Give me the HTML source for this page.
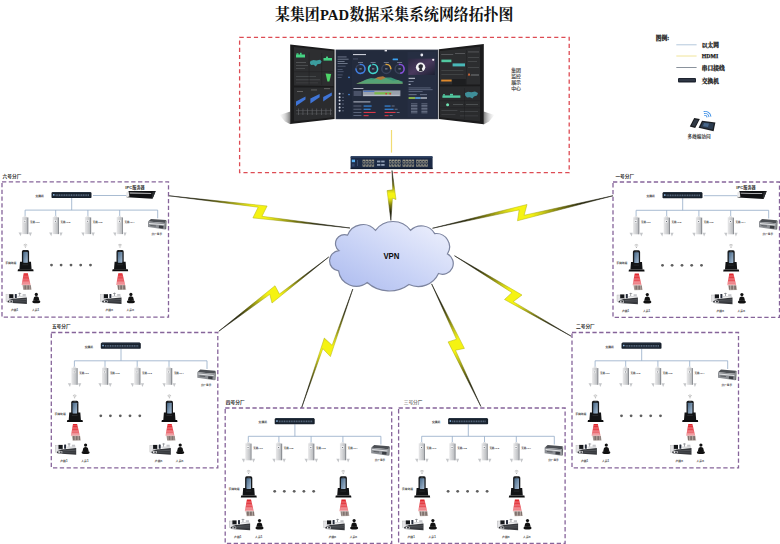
<!DOCTYPE html>
<html lang="zh"><head><meta charset="utf-8"><title>某集团PAD数据采集系统网络拓扑图</title>
<style>html,body{margin:0;padding:0;background:#fff;overflow:hidden}svg{display:block}text{font-family:"Liberation Sans","Noto Sans CJK SC",sans-serif}.sb{font-family:"Liberation Sans","Noto Sans CJK SC",sans-serif;font-weight:bold}.sr{font-family:"Liberation Sans","Noto Sans CJK SC",sans-serif;font-weight:normal}.fb{font-family:"Liberation Serif","Noto Serif CJK SC",serif;font-weight:bold}</style>
</head><body>
<svg width="780" height="544" viewBox="0 0 780 544">
<defs><linearGradient id="cl" x1="0" y1="1" x2="1" y2="0"><stop offset="0" stop-color="#aab9ee"/><stop offset=".45" stop-color="#c9d3f6"/><stop offset="1" stop-color="#f1f3fd"/></linearGradient><linearGradient id="apg" x1="0" y1="0" x2="1" y2="0"><stop offset="0" stop-color="#e9e9ea"/><stop offset=".5" stop-color="#d4d5d7"/><stop offset="1" stop-color="#bcbec1"/></linearGradient><linearGradient id="scr" x1="0" y1="0" x2="1" y2="1"><stop offset="0" stop-color="#466786"/><stop offset="1" stop-color="#a9bed4"/></linearGradient><linearGradient id="beam" x1="0" y1="0" x2="0" y2="1"><stop offset="0" stop-color="#e01f26"/><stop offset=".6" stop-color="#e8525a"/><stop offset="1" stop-color="#f0a0a4"/></linearGradient><linearGradient id="space" x1="0" y1="0" x2="1" y2="1"><stop offset="0" stop-color="#2a2840"/><stop offset=".5" stop-color="#4a3a5e"/><stop offset="1" stop-color="#1c2032"/></linearGradient><linearGradient id="shL" x1="1" y1="0.5" x2="0" y2="0.5"><stop offset="0" stop-color="#444" stop-opacity=".7"/><stop offset=".5" stop-color="#777" stop-opacity=".3"/><stop offset="1" stop-color="#999" stop-opacity="0"/></linearGradient><linearGradient id="shR" x1="0" y1="0.5" x2="1" y2="0.5"><stop offset="0" stop-color="#444" stop-opacity=".7"/><stop offset=".5" stop-color="#777" stop-opacity=".3"/><stop offset="1" stop-color="#999" stop-opacity="0"/></linearGradient><linearGradient id="bg0" gradientUnits="userSpaceOnUse" x1="392.0" y1="170.5" x2="390.9" y2="220.4"><stop offset="0" stop-color="#1c1c14"/><stop offset=".18" stop-color="#28280c"/><stop offset=".3" stop-color="#7a7a0e"/><stop offset=".4" stop-color="#cfcf16"/><stop offset=".46" stop-color="#f5f312"/><stop offset=".54" stop-color="#f5f312"/><stop offset=".6" stop-color="#cfcf16"/><stop offset=".7" stop-color="#7a7a0e"/><stop offset=".82" stop-color="#28280c"/><stop offset="1" stop-color="#1c1c14"/></linearGradient><linearGradient id="bs0" gradientUnits="userSpaceOnUse" x1="392.0" y1="170.5" x2="390.9" y2="220.4"><stop offset="0" stop-color="#1c1c14"/><stop offset=".18" stop-color="#28280c"/><stop offset=".3" stop-color="#66660e"/><stop offset=".45" stop-color="#b6b614"/><stop offset=".55" stop-color="#b6b614"/><stop offset=".7" stop-color="#66660e"/><stop offset=".82" stop-color="#28280c"/><stop offset="1" stop-color="#1c1c14"/></linearGradient><linearGradient id="bg1" gradientUnits="userSpaceOnUse" x1="168.8" y1="195.8" x2="350.0" y2="228.0"><stop offset="0" stop-color="#1c1c14"/><stop offset=".18" stop-color="#28280c"/><stop offset=".3" stop-color="#7a7a0e"/><stop offset=".4" stop-color="#cfcf16"/><stop offset=".46" stop-color="#f5f312"/><stop offset=".54" stop-color="#f5f312"/><stop offset=".6" stop-color="#cfcf16"/><stop offset=".7" stop-color="#7a7a0e"/><stop offset=".82" stop-color="#28280c"/><stop offset="1" stop-color="#1c1c14"/></linearGradient><linearGradient id="bs1" gradientUnits="userSpaceOnUse" x1="168.8" y1="195.8" x2="350.0" y2="228.0"><stop offset="0" stop-color="#1c1c14"/><stop offset=".18" stop-color="#28280c"/><stop offset=".3" stop-color="#66660e"/><stop offset=".45" stop-color="#b6b614"/><stop offset=".55" stop-color="#b6b614"/><stop offset=".7" stop-color="#66660e"/><stop offset=".82" stop-color="#28280c"/><stop offset="1" stop-color="#1c1c14"/></linearGradient><linearGradient id="bg2" gradientUnits="userSpaceOnUse" x1="432.5" y1="228.2" x2="613.0" y2="195.8"><stop offset="0" stop-color="#1c1c14"/><stop offset=".18" stop-color="#28280c"/><stop offset=".3" stop-color="#7a7a0e"/><stop offset=".4" stop-color="#cfcf16"/><stop offset=".46" stop-color="#f5f312"/><stop offset=".54" stop-color="#f5f312"/><stop offset=".6" stop-color="#cfcf16"/><stop offset=".7" stop-color="#7a7a0e"/><stop offset=".82" stop-color="#28280c"/><stop offset="1" stop-color="#1c1c14"/></linearGradient><linearGradient id="bs2" gradientUnits="userSpaceOnUse" x1="432.5" y1="228.2" x2="613.0" y2="195.8"><stop offset="0" stop-color="#1c1c14"/><stop offset=".18" stop-color="#28280c"/><stop offset=".3" stop-color="#66660e"/><stop offset=".45" stop-color="#b6b614"/><stop offset=".55" stop-color="#b6b614"/><stop offset=".7" stop-color="#66660e"/><stop offset=".82" stop-color="#28280c"/><stop offset="1" stop-color="#1c1c14"/></linearGradient><linearGradient id="bg3" gradientUnits="userSpaceOnUse" x1="218.8" y1="331.2" x2="328.8" y2="257.0"><stop offset="0" stop-color="#1c1c14"/><stop offset=".18" stop-color="#28280c"/><stop offset=".3" stop-color="#7a7a0e"/><stop offset=".4" stop-color="#cfcf16"/><stop offset=".46" stop-color="#f5f312"/><stop offset=".54" stop-color="#f5f312"/><stop offset=".6" stop-color="#cfcf16"/><stop offset=".7" stop-color="#7a7a0e"/><stop offset=".82" stop-color="#28280c"/><stop offset="1" stop-color="#1c1c14"/></linearGradient><linearGradient id="bs3" gradientUnits="userSpaceOnUse" x1="218.8" y1="331.2" x2="328.8" y2="257.0"><stop offset="0" stop-color="#1c1c14"/><stop offset=".18" stop-color="#28280c"/><stop offset=".3" stop-color="#66660e"/><stop offset=".45" stop-color="#b6b614"/><stop offset=".55" stop-color="#b6b614"/><stop offset=".7" stop-color="#66660e"/><stop offset=".82" stop-color="#28280c"/><stop offset="1" stop-color="#1c1c14"/></linearGradient><linearGradient id="bg4" gradientUnits="userSpaceOnUse" x1="454.5" y1="255.8" x2="571.2" y2="336.2"><stop offset="0" stop-color="#1c1c14"/><stop offset=".18" stop-color="#28280c"/><stop offset=".3" stop-color="#7a7a0e"/><stop offset=".4" stop-color="#cfcf16"/><stop offset=".46" stop-color="#f5f312"/><stop offset=".54" stop-color="#f5f312"/><stop offset=".6" stop-color="#cfcf16"/><stop offset=".7" stop-color="#7a7a0e"/><stop offset=".82" stop-color="#28280c"/><stop offset="1" stop-color="#1c1c14"/></linearGradient><linearGradient id="bs4" gradientUnits="userSpaceOnUse" x1="454.5" y1="255.8" x2="571.2" y2="336.2"><stop offset="0" stop-color="#1c1c14"/><stop offset=".18" stop-color="#28280c"/><stop offset=".3" stop-color="#66660e"/><stop offset=".45" stop-color="#b6b614"/><stop offset=".55" stop-color="#b6b614"/><stop offset=".7" stop-color="#66660e"/><stop offset=".82" stop-color="#28280c"/><stop offset="1" stop-color="#1c1c14"/></linearGradient><linearGradient id="bg5" gradientUnits="userSpaceOnUse" x1="301.5" y1="408.0" x2="352.8" y2="289.0"><stop offset="0" stop-color="#1c1c14"/><stop offset=".18" stop-color="#28280c"/><stop offset=".3" stop-color="#7a7a0e"/><stop offset=".4" stop-color="#cfcf16"/><stop offset=".46" stop-color="#f5f312"/><stop offset=".54" stop-color="#f5f312"/><stop offset=".6" stop-color="#cfcf16"/><stop offset=".7" stop-color="#7a7a0e"/><stop offset=".82" stop-color="#28280c"/><stop offset="1" stop-color="#1c1c14"/></linearGradient><linearGradient id="bs5" gradientUnits="userSpaceOnUse" x1="301.5" y1="408.0" x2="352.8" y2="289.0"><stop offset="0" stop-color="#1c1c14"/><stop offset=".18" stop-color="#28280c"/><stop offset=".3" stop-color="#66660e"/><stop offset=".45" stop-color="#b6b614"/><stop offset=".55" stop-color="#b6b614"/><stop offset=".7" stop-color="#66660e"/><stop offset=".82" stop-color="#28280c"/><stop offset="1" stop-color="#1c1c14"/></linearGradient><linearGradient id="bg6" gradientUnits="userSpaceOnUse" x1="431.6" y1="283.9" x2="480.9" y2="406.5"><stop offset="0" stop-color="#1c1c14"/><stop offset=".18" stop-color="#28280c"/><stop offset=".3" stop-color="#7a7a0e"/><stop offset=".4" stop-color="#cfcf16"/><stop offset=".46" stop-color="#f5f312"/><stop offset=".54" stop-color="#f5f312"/><stop offset=".6" stop-color="#cfcf16"/><stop offset=".7" stop-color="#7a7a0e"/><stop offset=".82" stop-color="#28280c"/><stop offset="1" stop-color="#1c1c14"/></linearGradient><linearGradient id="bs6" gradientUnits="userSpaceOnUse" x1="431.6" y1="283.9" x2="480.9" y2="406.5"><stop offset="0" stop-color="#1c1c14"/><stop offset=".18" stop-color="#28280c"/><stop offset=".3" stop-color="#66660e"/><stop offset=".45" stop-color="#b6b614"/><stop offset=".55" stop-color="#b6b614"/><stop offset=".7" stop-color="#66660e"/><stop offset=".82" stop-color="#28280c"/><stop offset="1" stop-color="#1c1c14"/></linearGradient><g id="ap"><g><polygon points="-6.6,15.8 -3.4,15.8 -4.4,19.4" fill="#c4c6c9"/><polygon points="6.9,15.8 3.7,15.8 5.2,19.4" fill="#c4c6c9"/><rect x="-1.4" y="-1" width="2.6" height="2" fill="#e3e4e6"/><rect x="-3" y="0.3" width="5" height="17" fill="url(#apg)"/><rect x="2" y="0.6" width="1.3" height="16.7" fill="#8e9196"/><rect x="-1.5" y="3.2" width="2.4" height="2.4" fill="#f7f7f8"/><rect x="-.7" y="4" width=".9" height=".9" fill="#4b5058"/></g></g><g id="ipcbox"><g><polygon points="0.6,3 3.6,0.4 18.6,1.6 18,4.6" fill="#4c4f54"/><polygon points="0.6,3 18,4.6 17.6,11 0.6,8.6" fill="#8d9095"/><polygon points="1.6,4.4 17,5.8 16.9,6.8 1.6,5.4" fill="#e4e5e7"/><rect x="11.6" y="7" width="4.4" height="2.6" fill="#3a3d42" transform="rotate(5 11.6 7)"/><rect x="3" y="6.4" width="5.6" height="1" fill="#5b5e63" transform="rotate(5 3 6.4)"/><polygon points="18,4.6 18.6,1.6 19.2,2.4 18.8,10.6 17.6,11" fill="#63666b"/></g></g><g id="scan"><g fill="none" stroke="#8a8a8a" stroke-width=".5"><path d="M21.6 63.2 Q23.4 61.6 25.2 63.2"/><path d="M22.3 64.2 Q23.4 63.3 24.5 64.2"/></g><circle cx="23.4" cy="65.3" r=".5" fill="#8a8a8a"/><rect x="19.9" y="68.3" width="7.2" height="16" rx="1.6" fill="#16181b"/><rect x="21.2" y="70.3" width="4.6" height="10.6" rx=".4" fill="url(#scr)"/><rect x="22.4" y="69" width="2.2" height=".5" fill="#555"/><path d="M18 80 H20.9 V81.4 H26.1 V80 H29 L29.6 87.6 H17.4Z" fill="#121315"/><path d="M16 87.4 H31.2 L31.6 89.4 H15.6Z" fill="#0c0d0e"/><rect x="20.6" y="82.8" width="5.6" height=".5" fill="#3a3d42"/><polygon points="21.7,91.4 25.8,91.4 28.6,103.2 19.6,103.2" fill="url(#beam)"/><rect x="21.6" y="93.0" width="4.4" height=".5" fill="#fff" opacity=".35"/><rect x="21.4" y="94.5" width="4.9" height=".5" fill="#fff" opacity=".35"/><rect x="21.1" y="96.0" width="5.4" height=".5" fill="#fff" opacity=".35"/><rect x="20.9" y="97.5" width="5.9" height=".5" fill="#fff" opacity=".35"/><rect x="20.6" y="99.0" width="6.4" height=".5" fill="#fff" opacity=".35"/><rect x="20.4" y="100.5" width="6.9" height=".5" fill="#fff" opacity=".35"/><rect x="20.1" y="102.0" width="7.4" height=".5" fill="#fff" opacity=".35"/><polygon points="20.4,103.2 28.8,103.2 29.6,108 21.4,108.2" fill="#b9aea8"/><rect x="21.8" y="103.6" width=".6" height="4" fill="#5a4a48"/><rect x="23.3" y="103.6" width=".6" height="4" fill="#5a4a48"/><rect x="24.8" y="103.6" width=".6" height="4" fill="#5a4a48"/><rect x="26.3" y="103.6" width=".6" height="4" fill="#5a4a48"/><rect x="27.8" y="103.6" width=".6" height="4" fill="#5a4a48"/><rect x="4" y="113" width="4" height="6.6" fill="#e4e4e6" stroke="#9a9a9c" stroke-width=".3"/><rect x="7.2" y="112.4" width="4.2" height="4.2" fill="#15171a"/><rect x="6.6" y="116.4" width="5.2" height=".8" fill="#c9c9cc"/><rect x="12.8" y="112.1" width="2" height="4.2" rx=".5" fill="#262c3a"/><rect x="17.4" y="110.8" width=".7" height="4" fill="#7c7f84"/><rect x="16.4" y="111.2" width="2.8" height=".6" fill="#7c7f84"/><rect x="20.6" y="112.2" width="3.2" height="2.6" fill="#c4c5c9"/><rect x="15.4" y="114" width="9" height="1.4" fill="#d9dadc"/><polygon points="10.4,116.9 24.9,115.6 24.9,122.2 6.2,120.9 6.2,118.4" fill="#35373b"/><polygon points="11.6,118 24.4,117.3 24.4,118.2 11.6,118.9" fill="#55585d"/><polygon points="11.6,119.6 24.4,119.2 24.4,119.9 11.6,120.3" fill="#4b4e53"/><rect x="5" y="118.6" width="6" height="2.2" fill="#ececee"/><rect x="5.6" y="119" width="1.6" height="1.4" fill="#2b2d31"/><rect x="8.4" y="119" width="2" height="1.4" fill="#3a3c41"/><circle cx="34.3" cy="112.6" r="1.6" fill="#111"/><path d="M32 115.4 Q34.3 113.6 36.6 115.4 L37.4 118.8 H31.2Z" fill="#111"/><ellipse cx="34.3" cy="119.9" rx="4" ry="1.6" fill="#111"/></g><g id="ipcsrv"><g><polygon points="126.2,9.1 153.8,9.1 150.5,17 124.6,15.4" fill="#101113"/><polygon points="124.2,10.6 126.6,9.3 127.4,14.8 124.6,15.5" fill="#e9e9ea"/><polygon points="127.6,10.8 149.4,11.2 149,12 127.6,11.6" fill="#e0e0e2"/><polygon points="150.6,10 153.4,9.6 150.8,16.4 149.6,16.2" fill="#2b2d30"/><path d="M91 13.7 H124.4" stroke="#93abc6" stroke-width=".8"/></g><text class="sb" x="123.3" y="7.3" font-size="4.2" fill="#333" textLength="19.5" lengthAdjust="spacingAndGlyphs">IPC服务器</text></g><g id="fac"><rect x="0" y="0" width="166.5" height="135.4" fill="none" stroke="#86649a" stroke-width="1.3" stroke-dasharray="4.3 2.5"/><path d="M69.7 16.2 V28.3 M23.1 35 V28.3 H155.7 V36.5 M53.7 28.3 V35 M85.9 28.3 V35 M117.7 28.3 V35" fill="none" stroke="#93abc6" stroke-width=".8"/><path d="M50.6 10.1 H88.4 L89.5 11 V15.4 Q89.5 16.2 88.7 16.2 H50.3 Q49.5 16.2 49.5 15.4 V11Z" fill="#18212c"/><rect x="50.8" y="10.3" width="37.4" height=".7" fill="#2d3a4a"/><rect x="51" y="12.3" width="1.5" height="1.5" fill="#8fbdea"/><line x1="53.6" y1="13.4" x2="87.6" y2="13.4" stroke="#56677c" stroke-width="1.7" stroke-dasharray="1.1 .6"/><rect x="53.6" y="14.6" width="34" height=".5" fill="#2a3544"/><text class="sb" x="33.4" y="15" font-size="2.8" fill="#333" textLength="8.4" lengthAdjust="spacingAndGlyphs">交换机</text><use href="#ap" x="23.1" y="35"/><text class="sb" x="28" y="41.1" font-size="2.5" fill="#333" textLength="9.7" lengthAdjust="spacingAndGlyphs">无线AP1</text><use href="#ap" x="53.7" y="35"/><text class="sb" x="58.6" y="41.1" font-size="2.5" fill="#333" textLength="9.7" lengthAdjust="spacingAndGlyphs">无线AP2</text><use href="#ap" x="85.9" y="35"/><text class="sb" x="90.8" y="41.1" font-size="2.5" fill="#333" textLength="9.7" lengthAdjust="spacingAndGlyphs">无线AP3</text><use href="#ap" x="117.7" y="35"/><text class="sb" x="122.6" y="41.1" font-size="2.5" fill="#333" textLength="9.7" lengthAdjust="spacingAndGlyphs">无线AP4</text><use href="#ipcbox" x="145.4" y="36.7"/><text class="sb" x="149.6" y="53.2" font-size="2.6" fill="#333" textLength="10.4" lengthAdjust="spacingAndGlyphs">分厂显示</text><use href="#scan" x="0.0"/><use href="#scan" x="94.6"/><text class="sb" x="3.2" y="82.2" font-size="2.8" fill="#333" textLength="11.2" lengthAdjust="spacingAndGlyphs">手持终端</text><text class="sb" x="8.9" y="129.6" font-size="2.8" fill="#333" textLength="7.3" lengthAdjust="spacingAndGlyphs">产线1</text><text class="sb" x="29.9" y="129.6" font-size="2.8" fill="#333" textLength="7.3" lengthAdjust="spacingAndGlyphs">人员1</text><text class="sb" x="103.5" y="129.6" font-size="2.8" fill="#333" textLength="7.4" lengthAdjust="spacingAndGlyphs">产线n</text><text class="sb" x="124.5" y="129.6" font-size="2.8" fill="#333" textLength="7.4" lengthAdjust="spacingAndGlyphs">人员n</text><circle cx="49.5" cy="83.3" r="1.4" fill="#5e5e5e"/><circle cx="59.1" cy="83.3" r="1.4" fill="#5e5e5e"/><circle cx="69.0" cy="83.3" r="1.4" fill="#5e5e5e"/><circle cx="78.7" cy="83.3" r="1.4" fill="#5e5e5e"/><circle cx="88.5" cy="83.3" r="1.4" fill="#5e5e5e"/></g></defs>
<rect width="780" height="544" fill="#fff"/>
<text class="fb" x="275" y="19.9" font-size="15.5" fill="#111" textLength="44.7" lengthAdjust="spacingAndGlyphs">某集团</text>
<text x="320.0" y="19.9" style="font-family:'Liberation Serif',serif;font-weight:bold;font-size:15.6px" fill="#111" textLength="29" lengthAdjust="spacingAndGlyphs">PAD</text>
<text class="fb" x="349.5" y="19.9" font-size="15.5" fill="#111" textLength="163.9" lengthAdjust="spacingAndGlyphs">数据采集系统网络拓扑图</text>
<rect x="239.6" y="37.3" width="329.6" height="135.3" fill="none" stroke="#dd4c54" stroke-width="1.3" stroke-dasharray="4.15 3"/>
<g id="monitors">
<polygon points="290.4,111.5 279.5,115 285,121.6 290.4,124.2" fill="url(#shL)"/>
<polygon points="483.6,111.5 494.5,115 489,121.6 483.6,124.5" fill="url(#shR)"/>
<polygon points="290.2,44.4 334.6,49.5 334.6,118.9 290.2,124" fill="#1b1b1c"/>
<polygon points="294,47 333.6,51 333.6,86 294,85.6" fill="#2d2e30"/>
<polygon points="294,87.4 333.6,87.6 333.6,117.3 294,121.4" fill="#2b2c2e"/>
<rect x="296" y="54.5" width="9" height="3" fill="#45d383"/><rect x="296.5" y="53.3" width="2" height="1.4" fill="#45d383"/><rect x="300" y="52.8" width="1.6" height="2" fill="#45d383"/>
<rect x="323.5" y="58" width="8.5" height="2.6" fill="#45d383"/><rect x="326" y="56.6" width="2" height="1.6" fill="#45d383"/>
<path d="M310.5 61 l3 -1 3 .6 3.5 -.8 2 1.6 -1.6 2.4 -3 .4 -1.6 2.2 -2.2 -1.6 -2.6 .2 -1.2 -2z" fill="#3b9c9e"/>
<polygon points="325.6,73.5 331.2,74 329.4,81.6 327.4,81.4" fill="#4ed468"/>
<rect x="296" y="62" width="10" height=".7" fill="#606265"/><rect x="296" y="65" width="12" height=".7" fill="#55575a"/><rect x="296" y="68" width="9" height=".7" fill="#55575a"/><rect x="296" y="76" width="20" height=".7" fill="#505255"/><rect x="296" y="79.5" width="24" height=".7" fill="#505255"/><rect x="296" y="82.6" width="22" height=".6" fill="#48494c"/>
<rect x="308.8" y="52.5" width=".5" height="32" fill="#1f2022"/><rect x="321.6" y="53" width=".5" height="32" fill="#1f2022"/><rect x="293" y="71.6" width="40" height=".5" fill="#1f2022"/>
<polygon points="296,106 296,101.5 305.5,96.6 305.5,99.5" fill="#3f74d6"/>
<polygon points="310.4,103.5 310.4,98.6 319.6,94 319.6,97.2" fill="#3f74d6"/>
<polygon points="323.2,101.4 323.2,97 331.8,92.4 331.8,95.6" fill="#3f74d6"/>
<rect x="296" y="110" width="36" height=".6" fill="#55575a"/><rect x="296" y="113.6" width="36" height=".6" fill="#4c4e51"/>
<rect x="298.0" y="108.5" width=".7" height="6.5" fill="#606266"/>
<rect x="302.6" y="108.5" width=".7" height="6.5" fill="#606266"/>
<rect x="307.2" y="108.5" width=".7" height="6.5" fill="#606266"/>
<rect x="311.8" y="108.5" width=".7" height="6.5" fill="#606266"/>
<rect x="316.4" y="108.5" width=".7" height="6.5" fill="#606266"/>
<rect x="321.0" y="108.5" width=".7" height="6.5" fill="#606266"/>
<rect x="325.6" y="108.5" width=".7" height="6.5" fill="#606266"/>
<rect x="330.2" y="108.5" width=".7" height="6.5" fill="#606266"/>
<rect x="297" y="91" width="6" height=".7" fill="#777"/><rect x="311" y="89.6" width="6" height=".7" fill="#777"/><rect x="324" y="88.4" width="6" height=".7" fill="#777"/>
<polygon points="438.8,49.2 483.8,43.9 483.8,124.3 438.8,118.9" fill="#1b1b1c"/>
<polygon points="440,51 480,46.8 480,84.6 440,84.4" fill="#2c2d2f"/>
<polygon points="440,86.4 480,86.2 480,121.4 440,117.2" fill="#2a2b2d"/>
<rect x="441.4" y="59.6" width="10" height="2.6" fill="#52c9a0"/><rect x="452.6" y="63.4" width="12.4" height="3" fill="#49b8b8"/>
<rect x="441.2" y="79.6" width="10.4" height="1.9" fill="#e08a2c"/>
<rect x="452.2" y="79" width="13.6" height="6.2" fill="#1d1e20"/>
<polygon points="467.8,75.4 469,72.8 470.4,75.4" fill="#e0703a"/><rect x="471" y="74.6" width="8" height=".8" fill="#8a8c8e"/>
<rect x="442.4" y="95.4" width="18" height="2.4" fill="#52c9a0"/><rect x="443" y="94.2" width="2" height="1.4" fill="#52c9a0"/><rect x="450" y="93.8" width="3" height="1.8" fill="#52c9a0"/>
<path d="M465 93 l3 -1.2 3.4 .4 3.6 -.6 3 1.4 -1 2.6 -3 .8 -1.6 2 -2.4 -1.2 -3 .4 -1.8 -2z" fill="#3f8f99"/>
<circle cx="447.6" cy="104.8" r="1.5" fill="#6fe0b0"/>
<rect x="441.2" y="54" width="12" height=".7" fill="#66686b"/><rect x="455" y="53" width="10" height=".7" fill="#66686b"/><rect x="468" y="51.6" width="11" height=".7" fill="#66686b"/><rect x="468" y="57" width="11" height=".6" fill="#56585b"/><rect x="468" y="61" width="9" height=".6" fill="#56585b"/><rect x="468" y="67" width="11" height=".6" fill="#56585b"/><rect x="441.4" y="70" width="22" height=".6" fill="#4e5053"/><rect x="441.4" y="74" width="22" height=".6" fill="#4e5053"/>
<rect x="453" y="104" width="10" height=".7" fill="#5b5d60"/><rect x="466" y="104" width="12" height=".7" fill="#5b5d60"/><rect x="441.4" y="110" width="16" height=".6" fill="#505255"/><rect x="460" y="111" width="18" height=".6" fill="#505255"/><rect x="441.4" y="114" width="14" height=".6" fill="#48494c"/><rect x="460" y="115.6" width="18" height=".6" fill="#48494c"/>
<rect x="466.2" y="50" width=".5" height="35" fill="#1f2022"/><rect x="464" y="88" width=".5" height="31" fill="#1f2022"/><rect x="440" y="100.6" width="41" height=".5" fill="#1f2022"/><rect x="440" y="107.6" width="41" height=".5" fill="#1f2022"/>
<rect x="335.6" y="49.6" width="102.6" height="69.6" fill="#323949"/>
<rect x="336.4" y="50.4" width="101" height="68" fill="#232b3d"/>
<rect x="336.4" y="50.4" width="15.4" height="68" fill="#20283a"/>
<rect x="384.6" y="49.9" width="2.4" height="1.5" fill="#e8e8ee"/>
<rect x="353" y="54" width="13" height="1.1" fill="#c8ccd6"/><rect x="353" y="58.6" width="5" height=".7" fill="#56607a"/>
<rect x="392.6" y="58.4" width="5.4" height="1.8" rx=".5" fill="#3aa0f0"/>
<circle cx="360.5" cy="68.9" r="4.5" fill="none" stroke="#39425a" stroke-width="1.5"/>
<circle cx="360.5" cy="68.9" r="4.5" fill="none" stroke="#3f7de0" stroke-width="1.5" stroke-dasharray="22 8" transform="rotate(-100 360.5 68.9)"/>
<rect x="358.0" y="62" width="5" height=".7" fill="#8a93a8"/>
<rect x="359.3" y="68.5" width="2.4" height=".8" fill="#aab2c4"/>
<circle cx="373.1" cy="68.9" r="4.5" fill="none" stroke="#39425a" stroke-width="1.5"/>
<circle cx="373.1" cy="68.9" r="4.5" fill="none" stroke="#40d6cc" stroke-width="1.5" stroke-dasharray="26 4" transform="rotate(-100 373.1 68.9)"/>
<rect x="370.6" y="62" width="5" height=".7" fill="#8a93a8"/>
<rect x="371.9" y="68.5" width="2.4" height=".8" fill="#aab2c4"/>
<circle cx="386.3" cy="68.9" r="4.5" fill="none" stroke="#39425a" stroke-width="1.5"/>
<circle cx="386.3" cy="68.9" r="4.5" fill="none" stroke="#e0a83c" stroke-width="1.5" stroke-dasharray="8 22" transform="rotate(-100 386.3 68.9)"/>
<rect x="383.8" y="62" width="5" height=".7" fill="#8a93a8"/>
<rect x="385.1" y="68.5" width="2.4" height=".8" fill="#aab2c4"/>
<circle cx="399.6" cy="68.9" r="4.5" fill="none" stroke="#39425a" stroke-width="1.5"/>
<circle cx="399.6" cy="68.9" r="4.5" fill="none" stroke="#8a4fe0" stroke-width="1.5" stroke-dasharray="14 16" transform="rotate(-100 399.6 68.9)"/>
<rect x="397.1" y="62" width="5" height=".7" fill="#8a93a8"/>
<rect x="398.4" y="68.5" width="2.4" height=".8" fill="#aab2c4"/>
<path d="M356.6 83.6 L362 81.4 368 79.2 373 79.8 378 77 383 76.2 388 79 393 80.8 398 80 402.6 82.8 V83.8 H356.6z" fill="#c8863c" opacity=".85"/>
<path d="M356.6 83.6 L361 82 366 79.6 371 78 376 78.6 381 80 386 77.6 391 77.4 396 79.4 402.6 81.6 V83.8 H356.6z" fill="#3fae84" opacity=".8"/>
<rect x="353.4" y="88" width="10" height=".9" fill="#b8bdca"/>
<rect x="353.6" y="91" width="8" height="5" fill="#4a5268"/>
<rect x="362.8" y="90.4" width="37.6" height="5.8" fill="#9aa1ad"/><rect x="363.4" y="90.8" width="11" height="1" fill="#4470c8"/><rect x="374.4" y="92.2" width="17" height="2.4" fill="#7db84c"/><rect x="385.4" y="93" width="1.6" height="1.6" fill="#d03a3a"/><rect x="389.4" y="93" width="1.6" height="1.6" fill="#d03a3a"/><rect x="363.4" y="94.8" width="36" height=".9" fill="#c4c8d0"/>
<rect x="353.4" y="101.4" width="17" height="1" fill="#b8bdca"/>
<rect x="353.4" y="105.6" width="8" height=".8" fill="#6a748a"/><rect x="363.6" y="105.5" width="8" height="1.1" fill="#3a8fe8"/><rect x="384.6" y="105.5" width="6" height="1.1" fill="#3a8fe8"/><rect x="391.6" y="105.6" width="3" height=".8" fill="#7a8499"/>
<rect x="353.4" y="108.8" width="8" height=".8" fill="#6a748a"/><rect x="363.6" y="108.7" width="7" height="1.1" fill="#3a8fe8"/><rect x="384.6" y="108.7" width="9" height="1.1" fill="#3a8fe8"/><rect x="394.6" y="108.8" width="3" height=".8" fill="#7a8499"/>
<rect x="353.4" y="112.0" width="8" height=".8" fill="#6a748a"/><rect x="363.6" y="111.9" width="12" height="1.1" fill="#d83848"/><rect x="384.6" y="111.9" width="11" height="1.1" fill="#d83848"/><rect x="396.6" y="112.0" width="3" height=".8" fill="#7a8499"/>
<rect x="353.4" y="115.2" width="8" height=".8" fill="#6a748a"/><rect x="363.6" y="115.1" width="5" height="1.1" fill="#d83848"/><rect x="384.6" y="115.1" width="4" height="1.1" fill="#d83848"/><rect x="389.6" y="115.2" width="3" height=".8" fill="#7a8499"/>
<rect x="337.6" y="56.6" width="9" height=".7" fill="#8c95aa"/>
<rect x="337.6" y="58.8" width="11" height=".7" fill="#8c95aa"/>
<rect x="337.6" y="61.0" width="7" height=".7" fill="#8c95aa"/>
<rect x="337.6" y="63.2" width="10" height=".7" fill="#8c95aa"/>
<rect x="337.6" y="65.8" width="8" height=".7" fill="#5e6880"/>
<rect x="337.6" y="69.0" width="5" height=".7" fill="#5e6880"/>
<rect x="337.6" y="71.4" width="6" height=".7" fill="#5e6880"/>
<rect x="337.6" y="74.6" width="5" height=".7" fill="#5e6880"/>
<rect x="337.6" y="77.0" width="4" height=".7" fill="#5e6880"/>
<circle cx="339.6" cy="93.8" r="1" fill="#cfd4e0"/><rect x="342" y="93.5" width="2" height=".7" fill="#6a748a"/>
<circle cx="339.6" cy="97.2" r="1" fill="#cfd4e0"/><rect x="342" y="96.9" width="2" height=".7" fill="#6a748a"/>
<circle cx="339.6" cy="100.6" r="1" fill="#cfd4e0"/><rect x="342" y="100.3" width="2" height=".7" fill="#6a748a"/>
<circle cx="339.6" cy="104.0" r="1" fill="#cfd4e0"/><rect x="342" y="103.7" width="2" height=".7" fill="#6a748a"/>
<circle cx="339.6" cy="107.4" r="1" fill="#cfd4e0"/><rect x="342" y="107.1" width="2" height=".7" fill="#6a748a"/>
<circle cx="339.6" cy="110.8" r="1" fill="#cfd4e0"/><rect x="342" y="110.5" width="2" height=".7" fill="#6a748a"/>
<circle cx="349" cy="77.4" r=".8" fill="#4a90e8"/><circle cx="349" cy="94.6" r=".8" fill="#4a90e8"/>
<rect x="407.4" y="52" width="29" height="65.4" fill="#262e42"/>
<rect x="408.2" y="58.6" width="26.6" height="16.4" fill="url(#space)"/>
<circle cx="420.6" cy="67.2" r="4.7" fill="#f2f2f4"/><path d="M418.6 65.4 q2 -2.2 4.2 -.4 q.6 2.4 -1 3.8 l1 2.4 h-4 l.8 -2.6 q-1.8 -1.2 -1 -3.2z" fill="#2a2a34"/>
<circle cx="433.2" cy="59.8" r="1.1" fill="#f2f2f6"/><circle cx="421.8" cy="55" r="1.4" fill="#e6e8f0"/>
<rect x="408.6" y="77.8" width="6.4" height="1" fill="#c8ccd6"/><rect x="408.6" y="81" width="5" height=".8" fill="#8790a6"/><rect x="408.6" y="83.8" width="2" height="1.2" fill="#aab2c4"/>
<rect x="408.6" y="87.6" width="22" height=".7" fill="#6e7890"/><rect x="408.6" y="89.4" width="24" height=".7" fill="#6e7890"/><rect x="408.6" y="91.2" width="14" height=".7" fill="#6e7890"/>
<rect x="408.6" y="94.4" width="8" height=".7" fill="#8790a6"/><rect x="420" y="94.4" width="7" height=".7" fill="#8790a6"/>
<rect x="408.6" y="97.2" width="6.6" height="1.6" fill="#9fcf4e"/><rect x="415.2" y="97.2" width="5.4" height="1.6" fill="#5aa8e8"/><rect x="420.6" y="97.2" width="6.4" height="1.6" fill="#a8aeba"/>
<rect x="411" y="103.6" width="6.4" height=".6" fill="#8c95aa"/><rect x="421.4" y="103.6" width="6" height=".6" fill="#8c95aa"/>
<rect x="411" y="105.1" width="6.4" height=".6" fill="#8c95aa"/><rect x="421.4" y="105.1" width="6" height=".6" fill="#8c95aa"/>
<rect x="411" y="106.6" width="6.4" height=".6" fill="#8c95aa"/><rect x="421.4" y="106.6" width="6" height=".6" fill="#8c95aa"/>
<rect x="411" y="108.1" width="6.4" height=".6" fill="#8c95aa"/><rect x="421.4" y="108.1" width="6" height=".6" fill="#8c95aa"/>
<rect x="411" y="109.6" width="6.4" height=".6" fill="#8c95aa"/><rect x="421.4" y="109.6" width="6" height=".6" fill="#8c95aa"/>
<rect x="411" y="111.1" width="6.4" height=".6" fill="#8c95aa"/><rect x="421.4" y="111.1" width="6" height=".6" fill="#8c95aa"/>
<rect x="411" y="112.6" width="6.4" height=".6" fill="#8c95aa"/><rect x="421.4" y="112.6" width="6" height=".6" fill="#8c95aa"/>
</g>
<text class="sr" x="511.2" y="72" font-size="4.9" fill="#333" stroke="#333" stroke-width=".12" textLength="9.8" lengthAdjust="spacingAndGlyphs">集团</text>
<text class="sr" x="511.2" y="78.05" font-size="4.9" fill="#333" stroke="#333" stroke-width=".12" textLength="9.8" lengthAdjust="spacingAndGlyphs">监控</text>
<text class="sr" x="511.2" y="84.1" font-size="4.9" fill="#333" stroke="#333" stroke-width=".12" textLength="9.8" lengthAdjust="spacingAndGlyphs">展示</text>
<text class="sr" x="511.2" y="90.15" font-size="4.9" fill="#333" stroke="#333" stroke-width=".12" textLength="9.8" lengthAdjust="spacingAndGlyphs">中心</text>
<line x1="391.5" y1="130" x2="391.5" y2="152.6" stroke="#f1dc74" stroke-width="1.2"/>
<g id="mainsw">
<rect x="350.6" y="156.3" width="82" height="12.8" rx=".8" fill="#1c2a45"/>
<rect x="350.6" y="156.3" width="82" height="1.5" rx=".6" fill="#2d4163"/>
<rect x="350.6" y="167.8" width="82" height="1.3" fill="#121b2e"/>
<rect x="351.8" y="159.6" width="3.2" height="2.6" fill="#5ab0f0"/><rect x="352" y="163.6" width="2.6" height="3" fill="#31456a"/><rect x="357" y="160" width=".7" height="6" fill="#4a5c7c"/>
<rect x="362.60" y="159.7" width="2.5" height="3" fill="#a9a48f"/><rect x="363.10" y="160.8" width="1.5" height="1.5" fill="#2a3448"/><rect x="365.60" y="159.7" width="2.5" height="3" fill="#a9a48f"/><rect x="366.10" y="160.8" width="1.5" height="1.5" fill="#2a3448"/><rect x="368.60" y="159.7" width="2.5" height="3" fill="#a9a48f"/><rect x="369.10" y="160.8" width="1.5" height="1.5" fill="#2a3448"/><rect x="371.60" y="159.7" width="2.5" height="3" fill="#a9a48f"/><rect x="372.10" y="160.8" width="1.5" height="1.5" fill="#2a3448"/><rect x="362.60" y="163.6" width="2.5" height="3" fill="#a9a48f"/><rect x="363.10" y="164.0" width="1.5" height="1.5" fill="#2a3448"/><rect x="365.60" y="163.6" width="2.5" height="3" fill="#a9a48f"/><rect x="366.10" y="164.0" width="1.5" height="1.5" fill="#2a3448"/><rect x="368.60" y="163.6" width="2.5" height="3" fill="#a9a48f"/><rect x="369.10" y="164.0" width="1.5" height="1.5" fill="#2a3448"/><rect x="371.60" y="163.6" width="2.5" height="3" fill="#a9a48f"/><rect x="372.10" y="164.0" width="1.5" height="1.5" fill="#2a3448"/>
<rect x="377" y="160.6" width="3.4" height="1.8" fill="#8f9db5"/><rect x="381.2" y="160.6" width="3.4" height="1.8" fill="#8f9db5"/><rect x="377" y="164" width="3.4" height="1.8" fill="#8f9db5"/><rect x="381.2" y="164" width="3.4" height="1.8" fill="#8f9db5"/>
<rect x="389.00" y="159.7" width="2.5" height="3" fill="#a9a48f"/><rect x="389.50" y="160.8" width="1.5" height="1.5" fill="#2a3448"/><rect x="392.00" y="159.7" width="2.5" height="3" fill="#a9a48f"/><rect x="392.50" y="160.8" width="1.5" height="1.5" fill="#2a3448"/><rect x="395.00" y="159.7" width="2.5" height="3" fill="#a9a48f"/><rect x="395.50" y="160.8" width="1.5" height="1.5" fill="#2a3448"/><rect x="398.00" y="159.7" width="2.5" height="3" fill="#a9a48f"/><rect x="398.50" y="160.8" width="1.5" height="1.5" fill="#2a3448"/><rect x="389.00" y="163.6" width="2.5" height="3" fill="#a9a48f"/><rect x="389.50" y="164.0" width="1.5" height="1.5" fill="#2a3448"/><rect x="392.00" y="163.6" width="2.5" height="3" fill="#a9a48f"/><rect x="392.50" y="164.0" width="1.5" height="1.5" fill="#2a3448"/><rect x="395.00" y="163.6" width="2.5" height="3" fill="#a9a48f"/><rect x="395.50" y="164.0" width="1.5" height="1.5" fill="#2a3448"/><rect x="398.00" y="163.6" width="2.5" height="3" fill="#a9a48f"/><rect x="398.50" y="164.0" width="1.5" height="1.5" fill="#2a3448"/>
<rect x="402.60" y="159.7" width="2.5" height="3" fill="#a9a48f"/><rect x="403.10" y="160.8" width="1.5" height="1.5" fill="#2a3448"/><rect x="405.60" y="159.7" width="2.5" height="3" fill="#a9a48f"/><rect x="406.10" y="160.8" width="1.5" height="1.5" fill="#2a3448"/><rect x="408.60" y="159.7" width="2.5" height="3" fill="#a9a48f"/><rect x="409.10" y="160.8" width="1.5" height="1.5" fill="#2a3448"/><rect x="411.60" y="159.7" width="2.5" height="3" fill="#a9a48f"/><rect x="412.10" y="160.8" width="1.5" height="1.5" fill="#2a3448"/><rect x="402.60" y="163.6" width="2.5" height="3" fill="#a9a48f"/><rect x="403.10" y="164.0" width="1.5" height="1.5" fill="#2a3448"/><rect x="405.60" y="163.6" width="2.5" height="3" fill="#a9a48f"/><rect x="406.10" y="164.0" width="1.5" height="1.5" fill="#2a3448"/><rect x="408.60" y="163.6" width="2.5" height="3" fill="#a9a48f"/><rect x="409.10" y="164.0" width="1.5" height="1.5" fill="#2a3448"/><rect x="411.60" y="163.6" width="2.5" height="3" fill="#a9a48f"/><rect x="412.10" y="164.0" width="1.5" height="1.5" fill="#2a3448"/>
<rect x="416.20" y="159.7" width="2.5" height="3" fill="#a9a48f"/><rect x="416.70" y="160.8" width="1.5" height="1.5" fill="#2a3448"/><rect x="419.20" y="159.7" width="2.5" height="3" fill="#a9a48f"/><rect x="419.70" y="160.8" width="1.5" height="1.5" fill="#2a3448"/><rect x="422.20" y="159.7" width="2.5" height="3" fill="#a9a48f"/><rect x="422.70" y="160.8" width="1.5" height="1.5" fill="#2a3448"/><rect x="425.20" y="159.7" width="2.5" height="3" fill="#a9a48f"/><rect x="425.70" y="160.8" width="1.5" height="1.5" fill="#2a3448"/><rect x="416.20" y="163.6" width="2.5" height="3" fill="#a9a48f"/><rect x="416.70" y="164.0" width="1.5" height="1.5" fill="#2a3448"/><rect x="419.20" y="163.6" width="2.5" height="3" fill="#a9a48f"/><rect x="419.70" y="164.0" width="1.5" height="1.5" fill="#2a3448"/><rect x="422.20" y="163.6" width="2.5" height="3" fill="#a9a48f"/><rect x="422.70" y="164.0" width="1.5" height="1.5" fill="#2a3448"/><rect x="425.20" y="163.6" width="2.5" height="3" fill="#a9a48f"/><rect x="425.70" y="164.0" width="1.5" height="1.5" fill="#2a3448"/>
</g>
<text class="fb" x="655.8" y="40.2" font-size="5.7" fill="#222" stroke="#222" stroke-width=".28" textLength="13.4" lengthAdjust="spacingAndGlyphs">图例:</text>
<line x1="676.3" y1="44.8" x2="696.6" y2="44.8" stroke="#b4c8dc" stroke-width="1"/>
<text class="fb" x="701.8" y="47" font-size="5.7" fill="#222" stroke="#222" stroke-width=".28" textLength="17.1" lengthAdjust="spacingAndGlyphs">以太网</text>
<line x1="676.3" y1="56" x2="696.6" y2="56" stroke="#f0e49a" stroke-width="1"/>
<text x="701.8" y="57.9" style="font-family:'Liberation Serif',serif;font-weight:bold;font-size:5.9px" fill="#222" stroke="#222" stroke-width=".25" textLength="16.4" lengthAdjust="spacingAndGlyphs">HDMI</text>
<line x1="676.3" y1="67.5" x2="696.6" y2="67.5" stroke="#8a929c" stroke-width="1"/>
<text class="fb" x="701.8" y="69.8" font-size="5.7" fill="#222" stroke="#222" stroke-width=".28" textLength="22.8" lengthAdjust="spacingAndGlyphs">串口接线</text>
<rect x="678" y="78" width="18" height="4.4" rx="1" fill="#1e2430"/><rect x="679" y="79.6" width="16" height=".8" fill="#4a5568"/>
<text class="fb" x="701.8" y="82.6" font-size="5.7" fill="#222" stroke="#222" stroke-width=".28" textLength="17.1" lengthAdjust="spacingAndGlyphs">交换机</text>
<g id="mobile">
<g fill="none" stroke="#3d8fe6" stroke-linecap="round" transform="translate(705 117.4) rotate(-10)"><path d="M0 -2 A2 2 0 0 1 2 0" stroke-width=".95"/><path d="M0 -4 A4 4 0 0 1 4 0" stroke-width=".95"/><path d="M0 -6 A6 6 0 0 1 6 0" stroke-width=".95"/></g>
<polygon points="694.2,118 699.8,119 695.2,128 689.8,126.6" fill="#191b1f"/><polygon points="694.6,119.4 698.4,120 694.8,126.4 691.4,125.6" fill="#313a45"/>
<polygon points="702,120.8 715.4,122.4 713.6,131.2 698.6,127.8" fill="#1b1e23"/><polygon points="702.8,122 713.8,123.4 712.6,129.6 700.6,127" fill="#2c3c50"/><polygon points="704,123 709,123.6 708,127 703,126.2" fill="#48678a"/>
<text class="sr" x="687.6" y="138.3" font-size="4.6" fill="#2a2a2a" stroke="#2a2a2a" stroke-width=".14" textLength="23" lengthAdjust="spacingAndGlyphs">多终端访问</text>
</g>
<path d="M375.5 230.3 A21.9 21.9 0 0 1 410.6 230.3 A15.3 15.3 0 0 1 434.7 233.6 A13.3 13.3 0 0 1 447.5 253.9 A10.8 10.8 0 0 1 438.5 273.5 A22.3 22.3 0 0 1 409 284.5 A33 33 0 0 1 367.2 282.5 A17.8 17.8 0 0 1 338.6 270.9 A10.2 10.2 0 0 1 338.9 250.6 A9 9 0 0 1 347.6 235.1 A16.5 16.5 0 0 1 375.5 230.3Z" fill="url(#cl)" stroke="#7c849f" stroke-width="1.2"/>
<text x="383.4" y="258.9" style="font-family:'Liberation Sans',sans-serif;font-weight:bold;font-size:9px" fill="#0a0a0a" textLength="16" lengthAdjust="spacingAndGlyphs">VPN</text>
<polygon points="392.00,170.50 396.00,199.50 392.44,198.10 390.90,220.40 387.10,190.60 392.74,189.85" fill="url(#bg0)" stroke="url(#bs0)" stroke-width=".55" stroke-linejoin="miter"/>
<polygon points="168.75,195.75 267.10,206.00 261.99,216.29 350.00,228.00 252.90,217.90 258.19,207.20" fill="url(#bg1)" stroke="url(#bs1)" stroke-width=".55" stroke-linejoin="miter"/>
<polygon points="432.50,228.25 527.00,204.50 524.14,215.26 613.00,195.75 517.50,220.75 519.15,209.88" fill="url(#bg2)" stroke="url(#bs2)" stroke-width=".55" stroke-linejoin="miter"/>
<polygon points="218.75,331.25 275.00,285.75 279.38,294.02 328.75,257.00 272.00,303.00 269.82,294.36" fill="url(#bg3)" stroke="url(#bs3)" stroke-width=".55" stroke-linejoin="miter"/>
<polygon points="454.50,255.75 522.00,295.00 513.26,301.63 571.25,336.25 504.50,299.50 511.90,292.63" fill="url(#bg4)" stroke="url(#bs4)" stroke-width=".55" stroke-linejoin="miter"/>
<polygon points="301.50,408.00 324.30,338.10 332.10,345.26 352.80,289.00 330.40,356.60 322.83,348.65" fill="url(#bg5)" stroke="url(#bs5)" stroke-width=".55" stroke-linejoin="miter"/>
<polygon points="431.60,283.90 464.40,348.40 455.50,350.18 480.90,406.50 448.10,341.90 456.43,339.26" fill="url(#bg6)" stroke="url(#bs6)" stroke-width=".55" stroke-linejoin="miter"/>
<g transform="translate(2.0 181.8)"><use href="#fac"/><use href="#ipcsrv"/></g><text class="sb" x="2.6" y="177.7" font-size="4.7" fill="#2a2a2a" textLength="18.8" lengthAdjust="spacingAndGlyphs">六号分厂</text>
<g transform="translate(51.3 332.5)"><use href="#fac"/></g><text class="sb" x="51.9" y="328.4" font-size="4.7" fill="#2a2a2a" textLength="18.8" lengthAdjust="spacingAndGlyphs">五号分厂</text>
<g transform="translate(225.2 408.0)"><use href="#fac"/></g><text class="sb" x="225.8" y="403.9" font-size="4.7" fill="#2a2a2a" textLength="18.8" lengthAdjust="spacingAndGlyphs">四号分厂</text>
<g transform="translate(398.6 408.0)"><use href="#fac"/></g><text class="sr" x="403.7" y="403.9" font-size="4.7" fill="#2a2a2a" textLength="18.8" lengthAdjust="spacingAndGlyphs">三号分厂</text>
<g transform="translate(572.0 332.5)"><use href="#fac"/></g><text class="sb" x="576" y="328.4" font-size="4.7" fill="#2a2a2a" textLength="18.8" lengthAdjust="spacingAndGlyphs">二号分厂</text>
<g transform="translate(613.0 182.0)"><use href="#fac"/><use href="#ipcsrv"/></g><text class="sb" x="615.4" y="177.9" font-size="4.7" fill="#2a2a2a" textLength="18.8" lengthAdjust="spacingAndGlyphs">一号分厂</text>
</svg>
</body></html>
